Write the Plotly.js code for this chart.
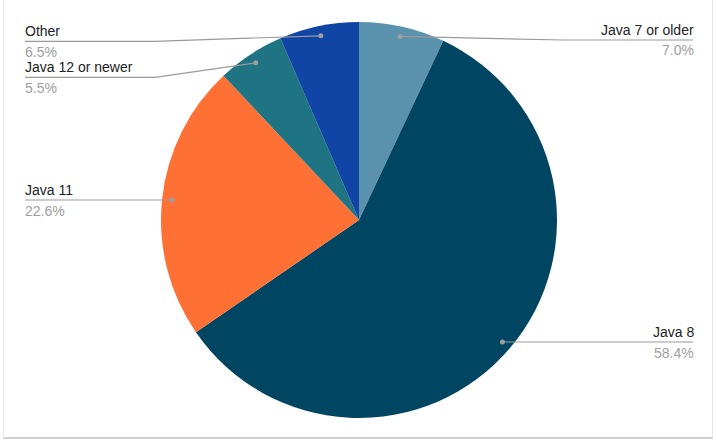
<!DOCTYPE html>
<html>
<head>
<meta charset="utf-8">
<script src="https://cdn.plot.ly/plotly-3.0.1.min.js"></script>
<style>
  html, body { margin: 0; padding: 0; background: #fff; }
  #wrap { position: relative; width: 718px; height: 445px; overflow: hidden; }
  #chart { width: 718px; height: 445px; }
  #frame { position: absolute; left: 3px; top: -6px; width: 710px; height: 445px;
           border-left: 1px solid #ececec; border-right: 1px solid #e6e6e6;
           border-bottom: 2px solid #cfcfcf; pointer-events: none; box-sizing: border-box; }
</style>
</head>
<body>
<div id="wrap"><div id="chart"></div><div id="frame"></div></div>
<script>
// ---- data ----
const labels = ['Java 7 or older', 'Java 8', 'Java 11', 'Java 12 or newer', 'Other'];
const shares = [7.0, 58.4, 22.6, 5.5, 6.5];

// ---- styling / layout ----
const sliceColors = ['#5a92ae', '#004561', '#ff7034', '#1e7482', '#1045a5'];
const W = 718, H = 445;
const cx = 359, cy = 220, R = 198;
const labelLineY = [40, 342, 200, 77.3, 41.3];   // layout positions of label lines (px)
const leftEnd = 25, rightEnd = 693, leftElbow = 155, rightElbow = 563;
const lineColor = '#9a9a9a';

const px = x => x / W;
const py = y => 1 - y / H;

const total = shares.reduce((a, b) => a + b, 0);
const shapes = [], annotations = [];
let cum = 0;
shares.forEach((v, i) => {
  const mid = (cum + v / 2) / total;
  cum += v;
  const th = 2 * Math.PI * mid;
  const dx = cx + Math.sin(th) * R * 0.95;
  const dy = cy - Math.cos(th) * R * 0.95;
  const right = dx > cx;
  const ly = labelLineY[i];
  const endX = right ? rightEnd : leftEnd;
  const elbowX = right ? rightElbow : leftElbow;
  const straight = Math.abs(ly - dy) < 1.5;
  const path = straight
    ? `M ${px(dx)} ${py(ly)} L ${px(endX)} ${py(ly)}`
    : `M ${px(dx)} ${py(dy)} L ${px(elbowX)} ${py(ly)} L ${px(endX)} ${py(ly)}`;
  shapes.push({ type: 'path', xref: 'paper', yref: 'paper', path: path,
                line: { color: lineColor, width: 1.2 } });
  shapes.push({ type: 'circle', xref: 'paper', yref: 'paper',
                xsizemode: 'pixel', ysizemode: 'pixel',
                xanchor: px(dx), yanchor: py(straight ? ly : dy),
                x0: -2.5, x1: 2.5, y0: -2.5, y1: 2.5,
                fillcolor: '#9e9e9e', line: { width: 0 } });
  const xs = right ? 3 : -2;
  annotations.push({ xref: 'paper', yref: 'paper', x: px(endX), y: py(ly - 10.5), xshift: xs,
                     xanchor: right ? 'right' : 'left', yanchor: 'middle',
                     text: labels[i], showarrow: false,
                     font: { family: 'Liberation Sans, Arial, sans-serif', size: 14, color: '#222222' } });
  annotations.push({ xref: 'paper', yref: 'paper', x: px(endX), y: py(ly + 10.5), xshift: xs,
                     xanchor: right ? 'right' : 'left', yanchor: 'middle',
                     text: v.toFixed(1) + '%', showarrow: false,
                     font: { family: 'Liberation Sans, Arial, sans-serif', size: 14, color: '#9e9e9e' } });
});

const trace = {
  type: 'pie',
  labels: labels,
  values: shares,
  sort: false,
  direction: 'clockwise',
  rotation: 0,
  textinfo: 'none',
  hoverinfo: 'label+percent',
  marker: { colors: sliceColors, line: { color: '#ffffff', width: 0 } },
  domain: { x: [px(cx - R), px(cx + R)], y: [py(cy + R), py(cy - R)] },
  showlegend: false
};

Plotly.newPlot('chart', [trace], {
  width: W, height: H,
  margin: { l: 0, r: 0, t: 0, b: 0 },
  paper_bgcolor: '#ffffff',
  showlegend: false,
  shapes: shapes,
  annotations: annotations,
  font: { family: 'Liberation Sans, Arial, sans-serif' }
}, { staticPlot: true, displayModeBar: false });
</script>
</body>
</html>
